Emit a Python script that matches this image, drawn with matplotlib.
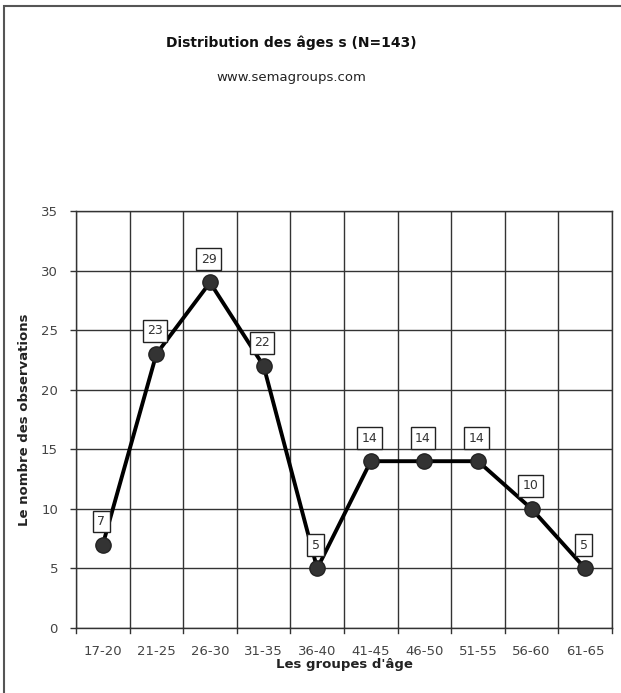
import matplotlib
matplotlib.use("Agg")
import matplotlib.pyplot as plt
from matplotlib.patches import Rectangle

categories = ["17-20", "21-25", "26-30", "31-35", "36-40", "41-45", "46-50", "51-55", "56-60", "61-65"]
counts = [7, 23, 29, 22, 5, 14, 14, 14, 10, 5]
yticks = [0, 5, 10, 15, 20, 25, 30, 35]

W, H = 621, 693
fig = plt.figure(figsize=(W / 100, H / 100), dpi=100)
fig.patch.set_facecolor("white")

# figure border
fig.add_artist(Rectangle((4 / W, -0.01), 1.0, 1 - 6 / H + 0.01, transform=fig.transFigure,
                         fill=False, edgecolor="#555555", linewidth=1.5))

ax = fig.add_axes([76 / W, 1 - 628 / H, (612 - 76) / W, (628 - 211) / H])
x = list(range(len(categories)))
ax.plot(x, counts, color="black", linewidth=2.8, marker="o", markersize=11,
        markerfacecolor="#333333", markeredgecolor="#222222", zorder=3)

for xi, v in zip(x, counts):
    ax.annotate(str(v), (xi, v), xytext=(-1, 12), textcoords="offset points",
                ha="center", va="bottom", fontsize=9, color="#333333",
                bbox=dict(boxstyle="square,pad=0.35", facecolor="white", edgecolor="#222222", linewidth=1),
                zorder=4)

ax.set_xlim(-0.5, len(categories) - 0.5)
ax.set_ylim(0, 35)
ax.set_yticks(yticks)
ax.set_yticklabels([str(t) for t in yticks], fontsize=9.5, color="#444444")
ax.set_xticks(x)
ax.set_xticklabels(categories, fontsize=9.5, color="#444444")
ax.tick_params(axis="x", length=0, pad=12)
ax.tick_params(axis="y", length=4, width=1, color="#333333", pad=9)
# boundary ticks and vertical gridlines
for b in [i - 0.5 for i in range(len(categories) + 1)]:
    ax.axvline(b, color="#333333", linewidth=1, zorder=1)
    ax.plot([b, b], [0, -0.0125], transform=ax.get_xaxis_transform(), clip_on=False,
            color="#333333", linewidth=1)
for t in yticks:
    ax.axhline(t, color="#333333", linewidth=1, zorder=1)
for s in ax.spines.values():
    s.set_color("#333333")
    s.set_linewidth(1)

ax.set_xlabel("Les groupes d'âge", fontsize=9.5, fontweight="bold", color="#222222", labelpad=0)
ax.set_ylabel("Le nombre des observations", fontsize=9.5, fontweight="bold", color="#222222", labelpad=7)

fig.text(291 / W, 1 - 43 / H, "Distribution des âges s (N=143)", ha="center", va="center",
         fontsize=10, fontweight="bold", color="#111111")
fig.text(291 / W, 1 - 78 / H, "www.semagroups.com", ha="center", va="center", fontsize=9.5, color="#222222")

fig.savefig("out.png", dpi=100, facecolor="white")
